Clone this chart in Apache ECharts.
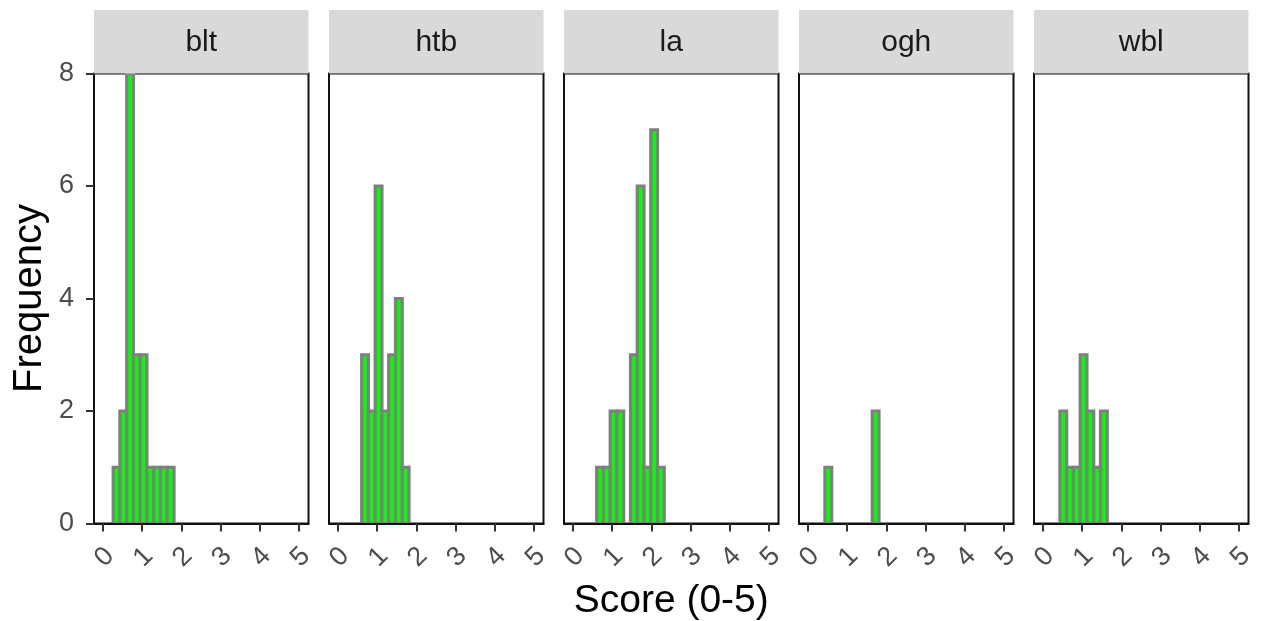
<!DOCTYPE html>
<html>
<head>
<meta charset="utf-8">
<script src="https://cdn.jsdelivr.net/npm/echarts@6/dist/echarts.min.js"></script>
<style>
  html, body { margin: 0; padding: 0; background: #ffffff; }
  #chart { width: 1264px; height: 621px; }
</style>
</head>
<body>
<div id="chart"></div>
<script>
// ---- data ----
const categories = ['blt', 'htb', 'la', 'ogh', 'wbl'];
const BIN_WIDTH = 0.1724; // histogram bin width (score units)

const bltCenters = [0.345, 0.517, 0.690, 0.862, 1.034, 1.207, 1.379, 1.552, 1.724];
const bltCounts  = [1, 2, 8, 3, 3, 1, 1, 1, 1];

const htbCenters = [0.690, 0.862, 1.034, 1.207, 1.379, 1.552, 1.724];
const htbCounts  = [3, 2, 6, 2, 3, 4, 1];

const laCenters  = [0.690, 0.862, 1.034, 1.207, 1.552, 1.724, 1.897, 2.069, 2.241];
const laCounts   = [1, 1, 2, 2, 3, 6, 1, 7, 1];

const oghCenters = [0.517, 1.724];
const oghCounts  = [1, 2];

const wblCenters = [0.517, 0.690, 0.862, 1.034, 1.207, 1.379, 1.552];
const wblCounts  = [2, 1, 1, 3, 2, 1, 2];

const xTicks = [0, 1, 2, 3, 4, 5];
const yTicks = [0, 2, 4, 6, 8];

const panels = [
  [bltCenters, bltCounts],
  [htbCenters, htbCounts],
  [laCenters, laCounts],
  [oghCenters, oghCounts],
  [wblCenters, wblCounts]
];

// ---- layout ----
const FONT = '"Liberation Sans", Arial, sans-serif';
const PANEL_LEFT0 = 94, PANEL_STEP = 235, PANEL_W = 214.5;
const PANEL_TOP = 73.5, PANEL_H = 450;
const STRIP_TOP = 10;

const grids = [], xAxes = [], yAxes = [], series = [], graphics = [];

panels.forEach(function (p, i) {
  const left = PANEL_LEFT0 + i * PANEL_STEP;
  grids.push({
    left: left, top: PANEL_TOP, width: PANEL_W, height: PANEL_H,
    show: true, borderColor: '#111111', borderWidth: 2, backgroundColor: '#ffffff'
  });
  xAxes.push({
    type: 'value', gridIndex: i, min: -0.23, max: 5.24, z: 10,
    splitLine: { show: false },
    axisLine: { show: true, onZero: false, lineStyle: { color: '#111111', width: 2 } },
    axisTick: { show: true, length: 8, customValues: xTicks, lineStyle: { color: '#333333', width: 2 } },
    axisLabel: {
      show: true, customValues: xTicks, rotate: 45, align: 'center', verticalAlign: 'middle',
      margin: 35, fontSize: 27, color: '#4d4d4d', fontFamily: FONT, padding: [0, 0, 0, 4]
    }
  });
  yAxes.push({
    type: 'value', gridIndex: i, min: 0, max: 8, interval: 2, z: 10,
    splitLine: { show: false },
    axisLine: { show: false, onZero: false },
    axisTick: { show: i === 0, length: 8, lineStyle: { color: '#333333', width: 2 } },
    axisLabel: { show: i === 0, customValues: yTicks, margin: 20, fontSize: 27, color: '#4d4d4d', fontFamily: FONT }
  });
  const data = p[0].map(function (c, j) { return [c, p[1][j]]; });
  series.push({
    type: 'custom', xAxisIndex: i, yAxisIndex: i, data: data, z: 3,
    renderItem: function (params, api) {
      const c = api.value(0), v = api.value(1);
      const tl = api.coord([c - BIN_WIDTH / 2, v]);
      const br = api.coord([c + BIN_WIDTH / 2, 0]);
      return {
        type: 'rect',
        shape: { x: tl[0], y: tl[1], width: br[0] - tl[0], height: br[1] - tl[1] },
        style: { fill: '#00ff00', stroke: '#7f7f7f', lineWidth: 3.2 }
      };
    }
  });
  graphics.push({
    type: 'rect', z: 5,
    shape: { x: left, y: STRIP_TOP, width: PANEL_W, height: PANEL_TOP - STRIP_TOP },
    style: { fill: '#d9d9d9' }
  });
  graphics.push({
    type: 'text', z: 6, x: left + PANEL_W / 2, y: (STRIP_TOP + PANEL_TOP) / 2 + 1,
    style: { text: categories[i], fontSize: 30, fill: '#1a1a1a', fontFamily: FONT,
             textAlign: 'center', textVerticalAlign: 'middle' }
  });
});

graphics.push({
  type: 'text', z: 6, x: (PANEL_LEFT0 + PANEL_LEFT0 + 4 * PANEL_STEP + PANEL_W) / 2, y: 601,
  style: { text: 'Score (0-5)', fontSize: 39, fill: '#000000', fontFamily: FONT,
           textAlign: 'center', textVerticalAlign: 'middle' }
});
graphics.push({
  type: 'text', z: 6, x: 30, y: PANEL_TOP + PANEL_H / 2, rotation: Math.PI / 2,
  style: { text: 'Frequency', fontSize: 40, fill: '#000000', fontFamily: FONT,
           textAlign: 'center', textVerticalAlign: 'middle' }
});

const chart = echarts.init(document.getElementById('chart'), null, { renderer: 'canvas' });
chart.setOption({
  animation: false,
  backgroundColor: '#ffffff',
  grid: grids,
  xAxis: xAxes,
  yAxis: yAxes,
  series: series,
  graphic: graphics
});
</script>
</body>
</html>
